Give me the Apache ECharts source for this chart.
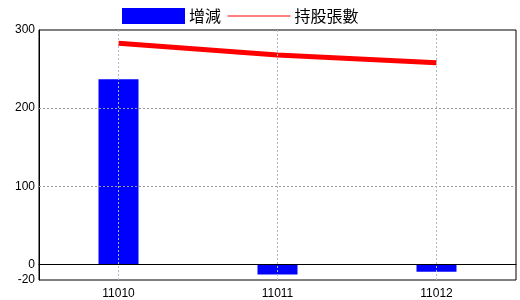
<!DOCTYPE html>
<html><head><meta charset="utf-8">
<script src="https://cdn.jsdelivr.net/npm/echarts@6/dist/echarts.min.js"></script>
<style>html,body{margin:0;padding:0;background:#fff}#c{width:520px;height:300px}</style>
</head><body><div id="c"></div>
<script>
const categories = ['11010', '11011', '11012'];
const changeValues = [237, -13, -9.5];
const holdingValues = [283, 268, 258];
const yTickLabels = [-20, 0, 100, 200, 300];
const seriesNames = ['增減', '持股張數'];

const chart = echarts.init(document.getElementById('c'), null, {renderer: 'canvas'});
const font = '"Liberation Sans", Arial, sans-serif';
chart.setOption({
  animation: false,
  backgroundColor: '#fff',
  legend: {
    left: 122, top: 8, padding: 0, itemWidth: 63, itemHeight: 16, itemGap: 6,
    textStyle: {fontSize: 16, color: '#000', fontFamily: '"Noto Sans CJK TC", sans-serif', padding: [0,0,0,-1]},
    data: [
      {name: seriesNames[0], icon: 'rect'},
      {name: seriesNames[1], lineStyle: {width: 1, color: '#ff0000'},
       itemStyle: {color: 'rgba(0,0,0,0)', borderWidth: 0, opacity: 0}}
    ]
  },
  grid: {left: 39, right: 4, top: 30, bottom: 20, show: true, borderColor: '#000', borderWidth: 1, backgroundColor: '#fff'},
  xAxis: {
    type: 'category', data: categories, boundaryGap: true,
    axisLine: {lineStyle: {color: '#000', width: 1}},
    axisTick: {show: false},
    axisLabel: {color: '#000', fontSize: 12, fontFamily: font, margin: 8},
    splitLine: {show: false}
  },
  yAxis: {
    type: 'value', min: -20, max: 300, interval: 20,
    axisLine: {show: true, lineStyle: {color: '#000', width: 1}},
    axisTick: {show: false},
    splitLine: {show: false},
    axisLabel: {color: '#000', fontSize: 12, fontFamily: font, margin: 4, customValues: yTickLabels}
  },
  series: [
    {
      name: seriesNames[0], type: 'bar', data: changeValues, barWidth: 40,
      itemStyle: {color: '#0000ff'},
      markLine: {
        silent: true, symbol: 'none', label: {show: false},
        data: [
          {yAxis: 100, lineStyle: {color: '#999', type: [2, 2], width: 1}},
          {yAxis: 200, lineStyle: {color: '#999', type: [2, 2], width: 1}},
          {xAxis: categories[0], lineStyle: {color: '#a8bcd0', type: [2, 2], width: 1}},
          {xAxis: categories[1], lineStyle: {color: '#a8bcd0', type: [2, 2], width: 1}},
          {xAxis: categories[2], lineStyle: {color: '#a8bcd0', type: [2, 2], width: 1}},
          {yAxis: 0, lineStyle: {color: '#000', type: 'solid', width: 1}}
        ]
      },
      z: 2
    },
    {
      name: seriesNames[1], type: 'line', data: holdingValues, symbol: 'none',
      lineStyle: {color: '#ff0000', width: 5}, itemStyle: {color: '#ff0000'}, z: 3
    }
  ]
});
</script></body></html>
